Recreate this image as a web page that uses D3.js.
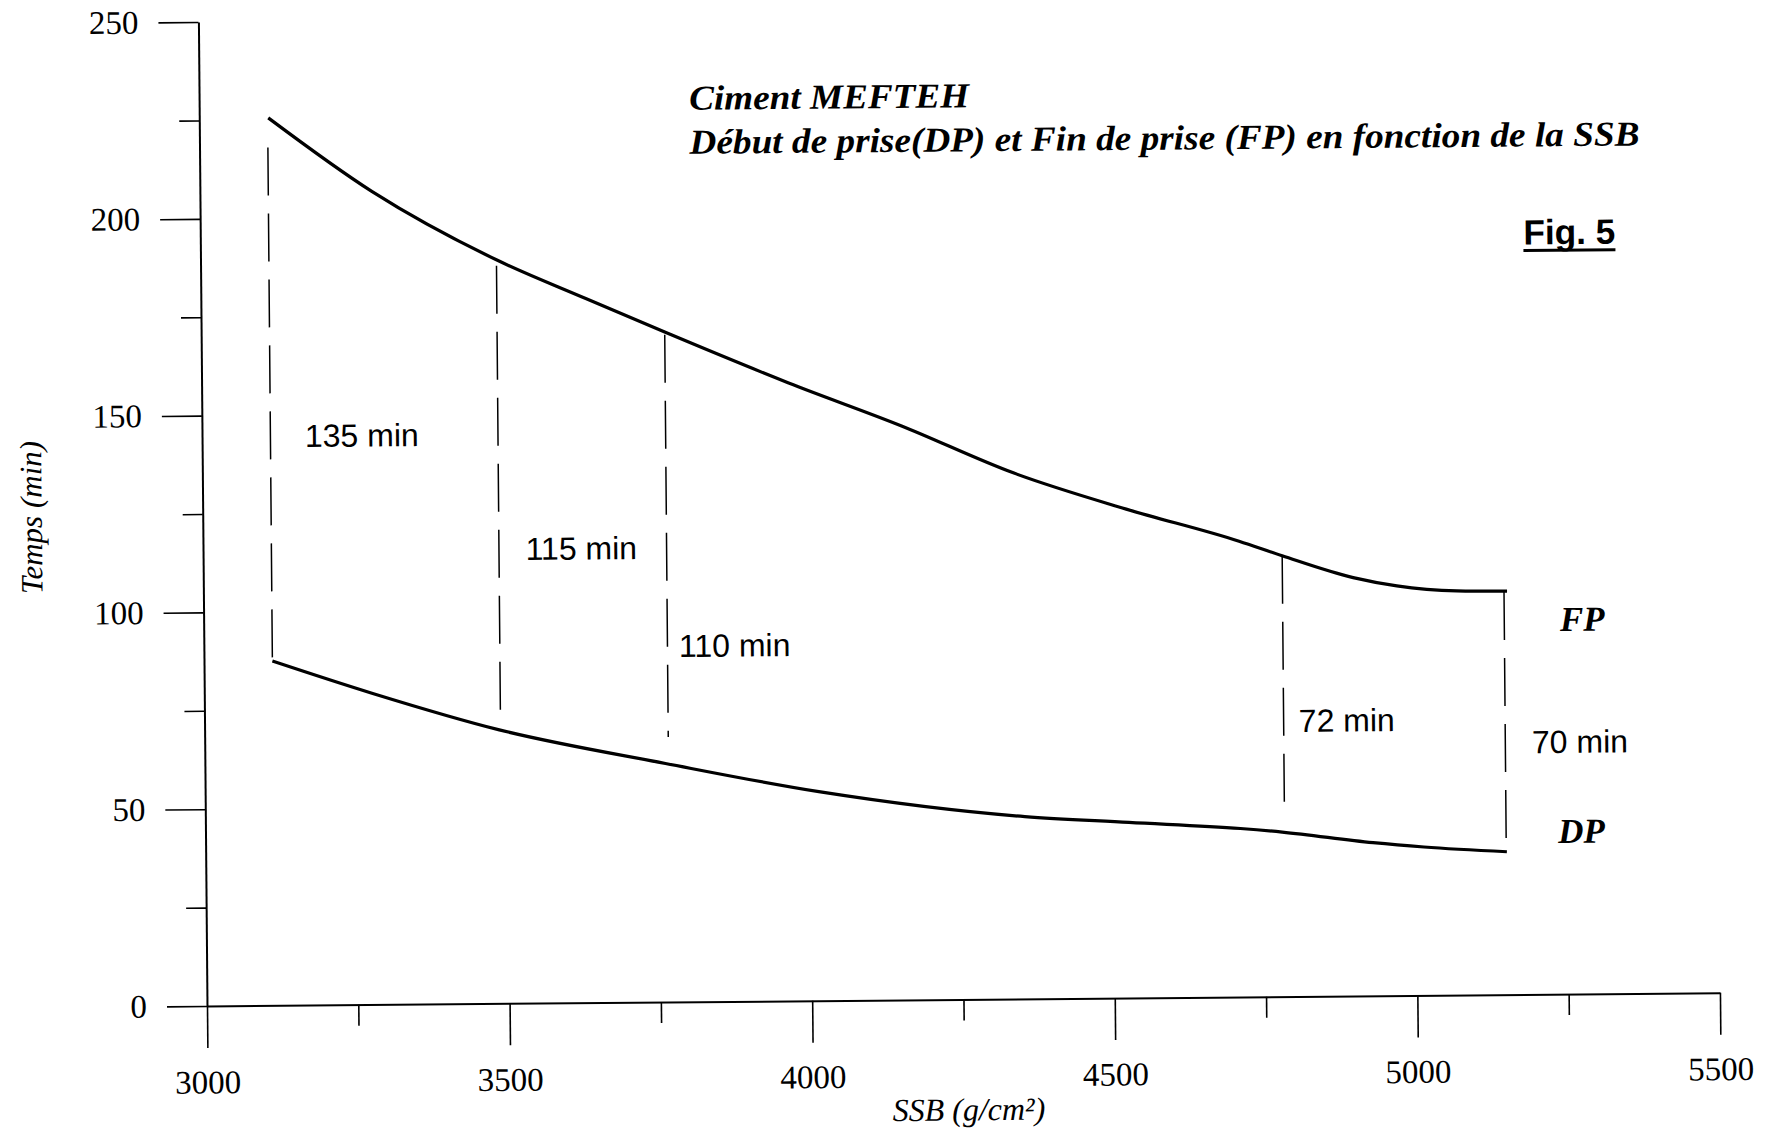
<!DOCTYPE html>
<html><head><meta charset="utf-8">
<script src="https://cdn.jsdelivr.net/npm/d3@7"></script>
<style>html,body{margin:0;padding:0;background:#fff;} svg{display:block}</style>
</head><body>
<svg id="chart" width="1766" height="1135"></svg>
<script>
// ---- data ----
const ssbFP = [3114, 3284, 3488, 3636, 3766, 3970, 4155, 4341, 4526, 4712, 4783, 4900, 4972, 5071, 5154];
const fpValues = [225.5, 206.6, 189, 178.9, 170.2, 157, 145.9, 133.6, 124.2, 115.8, 112, 106.3, 104.1, 102.7, 102.5];
const ssbDP = [3113, 3277, 3487, 3761, 4014, 4354, 4526, 4710, 4779, 4929, 5013, 5150];
const dpValues = [87.5, 79.1, 69.5, 60.6, 53.1, 46.3, 44.6, 42.8, 41.8, 38.9, 37.7, 36.3];

const gapSSB = [3113, 3489, 3766, 4783, 5149];
const gapTop = [218, 187.4, 169.5, 112, 102.3];
const gapBottom = [87.5, 73.3, 67.3, 44.9, 36];
const gapLabels = ["135 min", "115 min", "110 min", "72 min", "70 min"];
const gapLabelX = [3170, 3533, 3785, 4808, 5193];
const gapLabelY = [141.8, 112.6, 87.6, 67.2, 61.3];

const seriesNames = ["FP", "DP"];
const seriesLabelX = [5241, 5235];
const seriesLabelY = [92.3, 38.4];

const xTicks = [3000, 3500, 4000, 4500, 5000, 5500];
const xMinor = [3250, 3750, 4250, 4750, 5250];
const yTicks = [0, 50, 100, 150, 200, 250];
const yMinor = [25, 75, 125, 175, 225];

const titleLines = ["Ciment MEFTEH", "Début de prise(DP) et Fin de prise (FP) en fonction de la SSB"];
const figLabel = "Fig. 5";
const xTitle = "SSB (g/cm²)";
const yTitle = "Temps (min)";

// ---- drawing ----
const W = 1766, H = 1135;
const serif = "'Liberation Serif','Times New Roman',serif";
const sans = "'Liberation Sans',Arial,sans-serif";
const svg = d3.select('#chart');
svg.append('rect').attr('width', W).attr('height', H).attr('fill', '#fff');

const x = d3.scaleLinear().domain([3000, 5500]).range([207, 1720]);
const y = d3.scaleLinear().domain([0, 250]).range([1006, 22]);

// the scanned figure is slightly rotated
const g = svg.append('g').attr('transform', `rotate(-0.5,${x(3000)},${y(0)})`);

function styleAxis(sel, size) {
  sel.attr('font-family', serif).attr('font-size', size);
  sel.selectAll('.tick line').attr('stroke', '#000').attr('stroke-width', 1.6);
  sel.select('.domain').attr('stroke', '#000').attr('stroke-width', 2);
  sel.selectAll('text').attr('fill', '#000');
}

// y axis
const gy = g.append('g').attr('transform', `translate(${x(3000)},0)`)
  .call(d3.axisLeft(y).tickValues(yTicks).tickSize(40).tickPadding(20).tickSizeOuter(0));
styleAxis(gy, 33);
const gym = g.append('g').attr('transform', `translate(${x(3000)},0)`)
  .call(d3.axisLeft(y).tickValues(yMinor).tickSize(20).tickFormat(''));
gym.select('.domain').remove();
gym.selectAll('.tick line').attr('stroke', '#000').attr('stroke-width', 1.6);

// x axis
const gx = g.append('g').attr('transform', `translate(0,${y(0)})`)
  .call(d3.axisBottom(x).tickValues(xTicks).tickSize(42).tickPadding(22).tickSizeOuter(0).tickFormat(d3.format('d')));
styleAxis(gx, 33);
const gxm = g.append('g').attr('transform', `translate(0,${y(0)})`)
  .call(d3.axisBottom(x).tickValues(xMinor).tickSize(21).tickFormat(''));
gxm.select('.domain').remove();
gxm.selectAll('.tick line').attr('stroke', '#000').attr('stroke-width', 1.6);

// dashed gap lines
g.append('g').selectAll('line').data(gapSSB).join('line')
  .attr('x1', d => x(d)).attr('x2', d => x(d))
  .attr('y1', (d, i) => y(gapTop[i])).attr('y2', (d, i) => y(gapBottom[i]))
  .attr('stroke', '#000').attr('stroke-width', 1.5).attr('stroke-dasharray', '48,18');

// curves
const fpData = ssbFP.map((s, i) => [s, fpValues[i]]);
const dpData = ssbDP.map((s, i) => [s, dpValues[i]]);
const line = d3.line().x(d => x(d[0])).y(d => y(d[1])).curve(d3.curveMonotoneX);
[fpData, dpData].forEach(data => {
  g.append('path').datum(data).attr('d', line)
    .attr('fill', 'none').attr('stroke', '#000').attr('stroke-width', 3.2)
    .attr('stroke-linejoin', 'round');
});

// gap labels
g.append('g').selectAll('text').data(gapLabels).join('text')
  .attr('x', (d, i) => x(gapLabelX[i])).attr('y', (d, i) => y(gapLabelY[i]))
  .attr('font-family', sans).attr('font-size', 32).attr('fill', '#000')
  .text(d => d);

// series labels
g.append('g').selectAll('text').data(seriesNames).join('text')
  .attr('x', (d, i) => x(seriesLabelX[i])).attr('y', (d, i) => y(seriesLabelY[i]))
  .attr('font-family', serif).attr('font-size', 35).attr('font-weight', 'bold')
  .attr('font-style', 'italic').attr('fill', '#000')
  .text(d => d);

// titles
g.append('text').attr('x', 697).attr('y', 114)
  .attr('font-family', serif).attr('font-size', 35).attr('font-weight', 'bold').attr('font-style', 'italic')
  .attr('textLength', 280).attr('lengthAdjust', 'spacingAndGlyphs').text(titleLines[0]);
g.append('text').attr('x', 697).attr('y', 158)
  .attr('font-family', serif).attr('font-size', 35).attr('font-weight', 'bold').attr('font-style', 'italic')
  .attr('textLength', 950).attr('lengthAdjust', 'spacingAndGlyphs').text(titleLines[1]);

// Fig. 5
g.append('text').attr('x', 1530).attr('y', 256)
  .attr('font-family', sans).attr('font-size', 35).attr('font-weight', 'bold')
  .attr('textLength', 92).attr('lengthAdjust', 'spacingAndGlyphs').text(figLabel);
g.append('line').attr('x1', 1530).attr('x2', 1622).attr('y1', 262).attr('y2', 262)
  .attr('stroke', '#000').attr('stroke-width', 3);

// axis titles
g.append('text').attr('transform', 'translate(46,516) rotate(-90)')
  .attr('text-anchor', 'middle').attr('font-family', serif).attr('font-size', 31)
  .attr('font-style', 'italic').text(yTitle);
g.append('text').attr('x', 968).attr('y', 1127)
  .attr('text-anchor', 'middle').attr('font-family', serif).attr('font-size', 32)
  .attr('font-style', 'italic').text(xTitle);
</script>
</body></html>
